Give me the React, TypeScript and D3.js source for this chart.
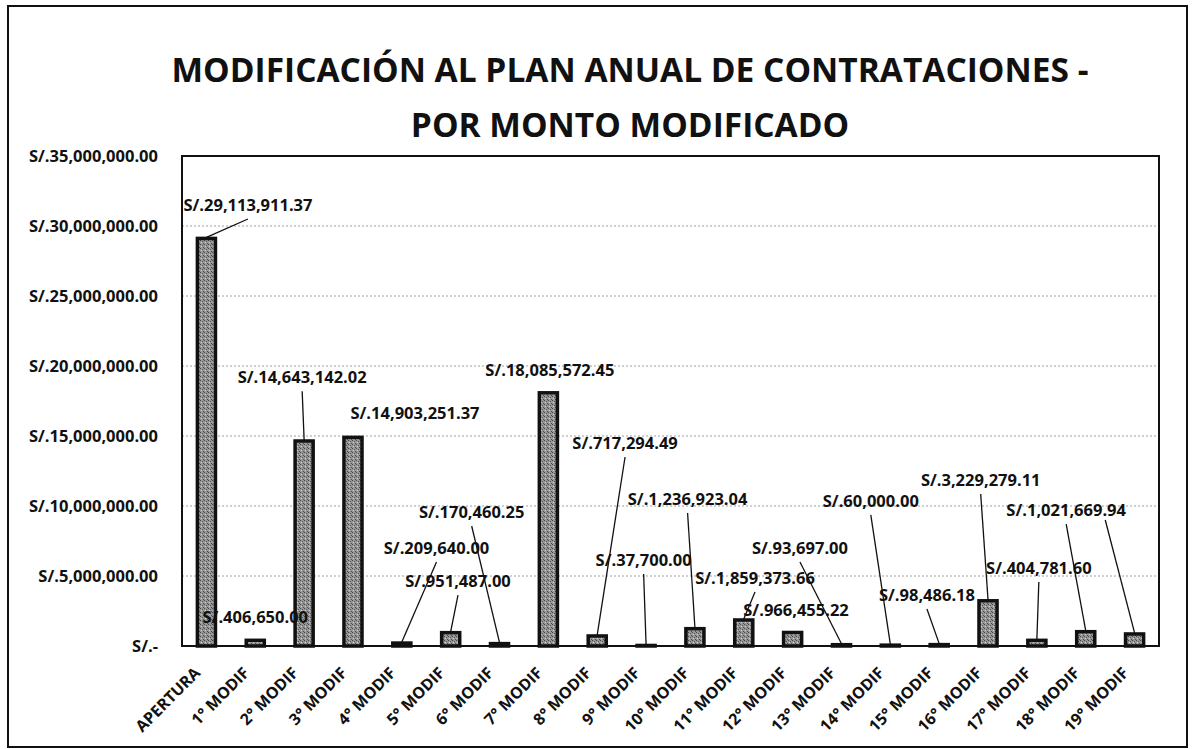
import React, { useEffect, useRef } from 'react';
import * as d3 from 'd3';

const categories = [
  'APERTURA', '1° MODIF', '2° MODIF', '3° MODIF', '4° MODIF', '5° MODIF', '6° MODIF',
  '7° MODIF', '8° MODIF', '9° MODIF', '10° MODIF', '11° MODIF', '12° MODIF', '13° MODIF',
  '14° MODIF', '15° MODIF', '16° MODIF', '17° MODIF', '18° MODIF', '19° MODIF',
];
const amounts = [
  29113911.37, 406650.0, 14643142.02, 14903251.37, 209640.0, 951487.0, 170460.25,
  18085572.45, 717294.49, 37700.0, 1236923.04, 1859373.66, 966455.22, 93697.0,
  60000.0, 98486.18, 3229279.11, 404781.6, 1021669.94, 860000.0,
];
const yTicks = [0, 5000000, 10000000, 15000000, 20000000, 25000000, 30000000, 35000000];

// where each data label sits: shift in category steps from the bar, and height in soles
const labelShift = [0.85, 0, -0.04, 1.27, 0.71, 0.15, -0.57, 0.03, 0.57, -0.05, -0.15, 0.23, 0.07, -0.85, -0.4, -0.25, -0.15, 0.04, -0.4, -0.6];
const labelLevel = [31.5e6, 2.07e6, 19.2e6, 16.6e6, 7.0e6, 4.64e6, 9.57e6, 19.7e6, 14.5e6, 6.14e6, 10.5e6, 4.86e6, 2.57e6, 7.0e6, 10.36e6, 3.64e6, 11.86e6, 5.57e6, 9.71e6, 10.0e6];
const hasLeader = [true, false, true, false, true, true, true, false, true, true, true, true, false, true, true, true, true, true, true, true];
const hiddenLabels = ['19° MODIF'];

const titleLines = ['MODIFICACIÓN AL PLAN ANUAL DE CONTRATACIONES -', 'POR MONTO MODIFICADO'];

const W = 1192;
const H = 749;
const FONT = '"Open Sans", "DejaVu Sans", sans-serif';

const money = (v: number) => (v === 0 ? 'S/.-' : 'S/.' + d3.format(',.2f')(v));

export default function App() {
  const ref = useRef<SVGSVGElement>(null);

  useEffect(() => {
    const svg = d3.select(ref.current);
    svg.selectAll('*').remove();

    const plot = { left: 182, right: 1159, top: 156, bottom: 646 };

    const x = d3.scaleBand().domain(categories).range([plot.left, plot.right]).paddingInner(0.63).paddingOuter(0.315);
    const y = d3.scaleLinear().domain([0, 35000000]).range([plot.bottom, plot.top]);
    const step = x.step();
    const cx = (c: string) => (x(c) as number) + x.bandwidth() / 2;

    // bar texture
    const defs = svg.append('defs');
    const pat = defs.append('pattern')
      .attr('id', 'speckle')
      .attr('patternUnits', 'userSpaceOnUse')
      .attr('width', 4)
      .attr('height', 4);
    pat.append('rect').attr('width', 4).attr('height', 4).attr('fill', '#979797');
    pat.append('rect').attr('x', 0).attr('y', 0).attr('width', 1).attr('height', 1).attr('fill', '#444');
    pat.append('rect').attr('x', 2).attr('y', 1).attr('width', 1).attr('height', 1).attr('fill', '#555');
    pat.append('rect').attr('x', 1).attr('y', 2).attr('width', 1).attr('height', 1).attr('fill', '#cfcfcf');
    pat.append('rect').attr('x', 3).attr('y', 3).attr('width', 1).attr('height', 1).attr('fill', '#4c4c4c');

    svg.append('rect')
      .attr('width', W).attr('height', H).attr('fill', '#fff');

    // outer frame
    svg.append('rect')
      .attr('x', 8).attr('y', 6)
      .attr('width', 1179).attr('height', 741)
      .attr('fill', 'none')
      .attr('stroke', '#111')
      .attr('stroke-width', 2);

    // title
    svg.append('g')
      .selectAll('text')
      .data(titleLines)
      .enter()
      .append('text')
      .attr('x', 630)
      .attr('y', (d, i) => 82 + i * 55)
      .attr('text-anchor', 'middle')
      .attr('font-family', FONT)
      .attr('font-weight', 700)
      .attr('font-size', 33.5)
      .attr('fill', '#111')
      .text((d) => d);

    // gridlines
    svg.append('g')
      .selectAll('line')
      .data(yTicks.filter((t) => t > 0 && t < 35000000))
      .enter()
      .append('line')
      .attr('x1', plot.left).attr('x2', plot.right)
      .attr('y1', (d) => y(d)).attr('y2', (d) => y(d))
      .attr('stroke', '#a0a0a0')
      .attr('stroke-width', 1)
      .attr('stroke-dasharray', '2,2');

    // y axis labels
    const yAxis = svg.append('g')
      .attr('transform', 'translate(' + (plot.left - 24) + ',0)')
      .call(d3.axisLeft(y).tickValues(yTicks).tickSize(0).tickPadding(0).tickFormat((d) => money(+d)));
    yAxis.select('.domain').remove();
    yAxis.selectAll('text')
      .attr('font-family', FONT)
      .attr('font-weight', 700)
      .attr('font-size', 16.5)
      .attr('fill', '#111');

    // bars
    svg.append('g')
      .selectAll('rect')
      .data(amounts)
      .enter()
      .append('rect')
      .attr('x', (d, i) => x(categories[i]) as number)
      .attr('y', (d) => y(d))
      .attr('width', x.bandwidth())
      .attr('height', (d) => plot.bottom - y(d))
      .attr('fill', 'url(#speckle)')
      .attr('stroke', '#111')
      .attr('stroke-width', 3.5);

    // plot border
    svg.append('rect')
      .attr('x', plot.left).attr('y', plot.top)
      .attr('width', plot.right - plot.left).attr('height', plot.bottom - plot.top)
      .attr('fill', 'none')
      .attr('stroke', '#111')
      .attr('stroke-width', 2);

    // x labels
    svg.append('g')
      .selectAll('text')
      .data(categories)
      .enter()
      .append('text')
      .attr('transform', (d) => 'translate(' + (cx(d) - 9) + ',' + 670 + ') rotate(-45)')
      .attr('text-anchor', 'end')
      .attr('dy', '0.35em')
      .attr('font-family', FONT)
      .attr('font-weight', 700)
      .attr('font-size', 16)
      .attr('fill', '#111')
      .text((d) => d);

    // leader lines
    const labels = amounts.map((v, i) => ({
      v,
      cat: categories[i],
      lx: cx(categories[i]) + labelShift[i] * step,
      ly: y(labelLevel[i]),
      leader: hasLeader[i],
      hidden: hiddenLabels.includes(categories[i]),
    }));

    svg.append('g')
      .selectAll('line')
      .data(labels.filter((d) => d.leader))
      .enter()
      .append('line')
      .attr('x1', (d) => d.lx)
      .attr('y1', (d) => d.ly + 14)
      .attr('x2', (d) => cx(d.cat))
      .attr('y2', (d) => y(d.v) - 1)
      .attr('stroke', '#111')
      .attr('stroke-width', 1.3);

    // data labels
    svg.append('g')
      .selectAll('text')
      .data(labels.filter((d) => !d.hidden))
      .enter()
      .append('text')
      .attr('x', (d) => d.lx)
      .attr('y', (d) => d.ly)
      .attr('dy', '0.35em')
      .attr('text-anchor', 'middle')
      .attr('font-family', FONT)
      .attr('font-weight', 700)
      .attr('font-size', 16.5)
      .attr('fill', '#111')
      .text((d) => money(d.v));
  }, []);

  return (
    <svg
      ref={ref}
      width={W}
      height={H}
      style={{ position: 'absolute', left: 0, top: 0, display: 'block' }}
    />
  );
}
